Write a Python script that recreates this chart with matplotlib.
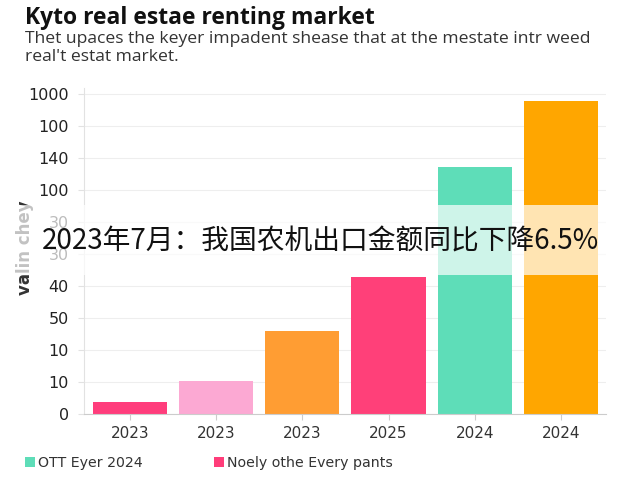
import matplotlib
matplotlib.use("Agg")
import matplotlib.pyplot as plt
from matplotlib.patches import Patch, Rectangle

# ---- data ----
categories = ["2023", "2023", "2023", "2025", "2024", "2024"]
values = [0.38, 1.02, 2.6, 4.29, 7.71, 9.79]
bar_colors = ["#FF3D7C", "#FCA9D3", "#FF9D33", "#FF4079", "#5EDDB8", "#FFA600"]
ytick_labels = ["0", "10", "10", "50", "40", "30", "30", "100", "140", "100", "1000"]
legend_labels = ["OTT Eyer 2024", "Noely othe Every pants"]
legend_colors = ["#5EDDB8", "#FF3D7A"]
title = "Kyto real estae renting market"
subtitle1 = "Thet upaces the keyer impadent \u0455hease that at the mestate intr weed"
subtitle2 = "real't estat market."
ylabel = "valin chey"
overlay_text = "2023年7月：我国农机出口金额同比下降6.5%"

fig = plt.figure(figsize=(6.4, 4.8), dpi=100)
ax = fig.add_axes([84/640, 1-414/480, (606-84)/640, (414-88)/480])

x = list(range(len(categories)))
ax.bar(x, values, width=0.86, color=bar_colors, zorder=2)
ax.set_xlim(-0.53, 5.52)
ax.set_ylim(0, 10.19)
ax.set_xticks(x)
ax.set_xticklabels(categories, fontsize=11, color="#333333")
ax.set_yticks(range(len(ytick_labels)))
ax.set_yticklabels(ytick_labels, fontsize=11.5, color="#222222")
ax.grid(axis="y", color="#EEEEEE", linewidth=0.8, zorder=0)
for s in ["top", "right"]:
    ax.spines[s].set_visible(False)
ax.spines["left"].set_color("#E2E2E2")
ax.spines["bottom"].set_color("#CCCCCC")
ax.tick_params(axis="y", length=4, color="#E2E2E2", pad=7)
ax.tick_params(axis="x", length=4, color="#CCCCCC", pad=5)

fig.text(25/640, 1-18/480, title, fontsize=16.5, fontweight="bold",
         family="Open Sans", va="center", ha="left", color="#111111")
fig.text(25/640, 1-39/480, subtitle1, fontsize=12.6, va="center", ha="left",
         color="#333333", family="Open Sans")
fig.text(25/640, 1-57/480, subtitle2, fontsize=12.6, va="center", ha="left",
         color="#333333", family="Open Sans")
fig.text(25/640, 1-248/480, ylabel, rotation=90, fontsize=12, fontweight="bold",
         va="center", ha="center", color="#333333")

handles = [Patch(facecolor=c, edgecolor="none") for c in legend_colors]
fig.legend(handles, legend_labels, loc="center left",
           bbox_to_anchor=(12/640, 1-463/480), ncol=2, frameon=False,
           fontsize=10.2, handlelength=0.75, handleheight=0.75,
           handletextpad=0.2, columnspacing=5.0, labelcolor="#333333")

# overlay band + text
band = Rectangle((0, 1-275/480), 1, 70/480, transform=fig.transFigure,
                 facecolor="white", edgecolor="none", alpha=0.7, zorder=5)
fig.patches.append(band)
fig.text(320/640, 1-242/480, overlay_text, fontsize=20, ha="center", va="center",
         family=["Noto Sans CJK SC", "DejaVu Sans"], color="#111111", zorder=6)

fig.savefig("out.png", dpi=100)
